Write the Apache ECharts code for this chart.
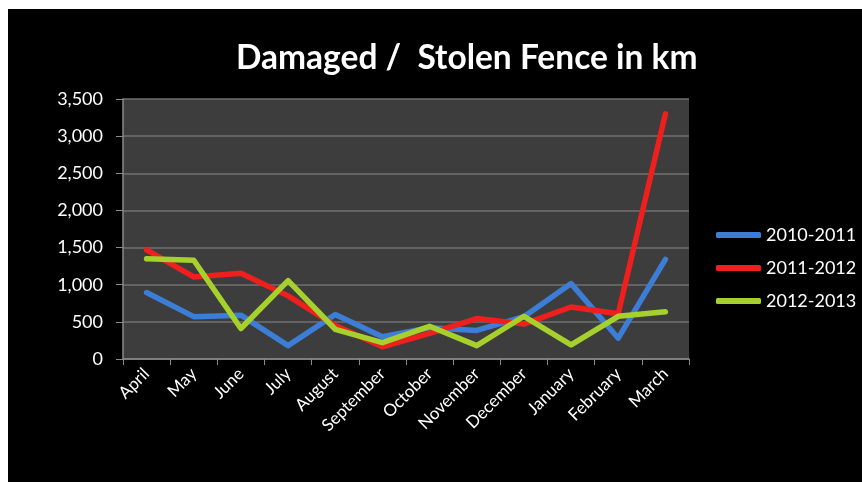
<!DOCTYPE html>
<html>
<head>
<meta charset="utf-8">
<script src="https://cdn.jsdelivr.net/npm/echarts@6/dist/echarts.min.js"></script>
<style>
html,body{margin:0;padding:0;background:#fff;width:862px;height:482px;overflow:hidden}
#c{position:absolute;left:8px;top:9px;width:854px;height:473px;background:#000}
</style>
</head>
<body>
<div id="c"></div>
<script>
var categories = ["April","May","June","July","August","September","October","November","December","January","February","March"];
var s2010 = [895, 570, 590, 180, 600, 300, 420, 385, 570, 1015, 280, 1340];
var s2011 = [1470, 1105, 1155, 850, 450, 165, 345, 545, 470, 700, 610, 3300];
var s2012 = [1350, 1330, 410, 1055, 400, 220, 440, 180, 575, 190, 575, 635];
var seriesNames = ["2010-2011","2011-2012","2012-2013"];
var colors = ["#3c7dd6","#ef1f1d","#a6d02c"];
var yTicks = [0, 500, 1000, 1500, 2000, 2500, 3000, 3500];

var chart = echarts.init(document.getElementById('c'));
var font = "Lato, 'Open Sans', sans-serif";
function mk(name, data, color){
  return {name:name, type:'line', data:data, symbol:'none', smooth:false,
    lineStyle:{width:5.5, color:color, cap:'round', join:'round'}, itemStyle:{color:color}};
}
chart.setOption({
  backgroundColor:'#000',
  animation:false,
  title:{text:'Damaged /  Stolen Fence in km', left:223, top:27,
    textStyle:{color:'#fff', fontSize:33.5, fontWeight:'bold', fontFamily:font}},
  legend:{orient:'vertical', left:703, top:212, icon:'roundRect', itemWidth:45, itemHeight:6,
    itemGap:15, data:seriesNames,
    textStyle:{color:'#fff', fontSize:18, fontFamily:font}},
  grid:{left:115, top:90, right:173, bottom:123, show:true, backgroundColor:'#3d3d3d', borderWidth:0},
  xAxis:{type:'category', data:categories, boundaryGap:true,
    axisLine:{lineStyle:{color:'#8a8a8a', width:1.5}},
    axisTick:{show:true, length:6, lineStyle:{color:'#8a8a8a'}},
    axisLabel:{rotate:45, color:'#fff', fontSize:17, fontFamily:font, margin:12, interval:0}},
  yAxis:{type:'value', min:yTicks[0], max:yTicks[yTicks.length-1], interval:500,
    axisLine:{show:true, lineStyle:{color:'#8a8a8a', width:1.5}},
    axisTick:{show:true, length:7, lineStyle:{color:'#8a8a8a'}},
    splitLine:{lineStyle:{color:'#707070', width:1.5}},
    axisLabel:{color:'#fff', fontSize:18, fontFamily:font, margin:20,
      formatter:function(v){return v.toLocaleString('en-US');}}},
  series:[mk(seriesNames[0], s2010, colors[0]), mk(seriesNames[1], s2011, colors[1]), mk(seriesNames[2], s2012, colors[2])]
});
</script>
</body>
</html>
